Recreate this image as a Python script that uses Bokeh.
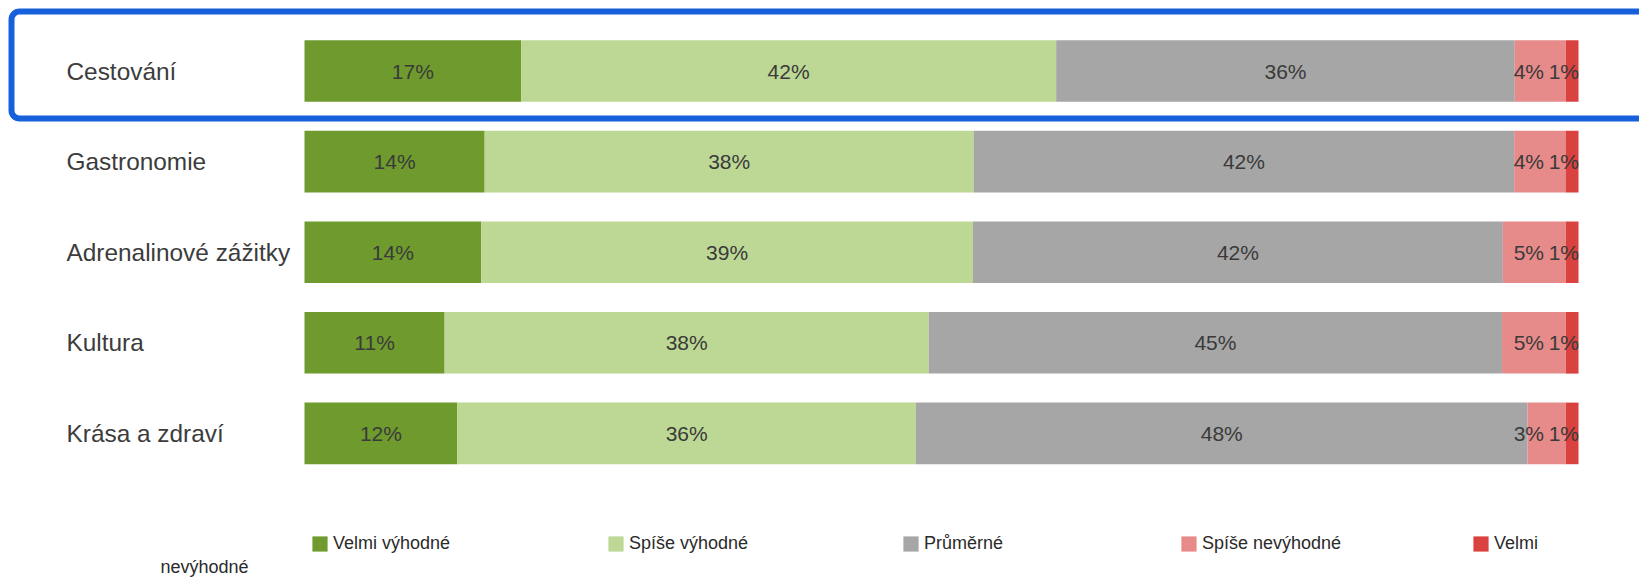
from bokeh.plotting import figure
from bokeh.models import ColumnDataSource, Range1d, Legend, LegendItem, Label, BoxAnnotation
from bokeh.core.properties import value
from bokeh.embed import file_html
from bokeh.resources import INLINE

# ---- data ----
categories = ["Cestování", "Gastronomie", "Adrenalinové zážitky", "Kultura", "Krása a zdraví"]
series_names = ["Velmi výhodné", "Spíše výhodné", "Průměrné", "Spíše nevýhodné", "Velmi nevýhodné"]
velmi_vyhodne = [17, 14, 14, 11, 12]
spise_vyhodne = [42, 38, 39, 38, 36]
prumerne = [36, 42, 42, 45, 48]
spise_nevyhodne = [4, 4, 5, 5, 3]
velmi_nevyhodne = [1, 1, 1, 1, 1]
series_values = [velmi_vyhodne, spise_vyhodne, prumerne, spise_nevyhodne, velmi_nevyhodne]
colors = ["#6e9a2e", "#bdd895", "#a6a6a6", "#e78a8a", "#d9423f"]

# ---- layout constants (pixels) ----
W, H = 1639, 578
PLOT_L, PLOT_R = 304, 1578
ROW0, PITCH = 70.5, 90.6
BAR_H = 0.68
FONT = "Liberation Sans"

ppp = (PLOT_R - PLOT_L) / 100.0
x_start = -PLOT_L / ppp
x_end = x_start + W / ppp
y_top = -ROW0 / PITCH
y_bottom = y_top + H / PITCH


def px_x(px):
    return x_start + px / ppp


def px_y(py):
    return y_top + py / PITCH


p = figure(width=W, height=H, x_range=Range1d(x_start, x_end),
           y_range=Range1d(y_bottom, y_top), output_backend="svg",
           toolbar_location=None, x_axis_type=None, y_axis_type=None,
           min_border=0, outline_line_color=None, background_fill_color="white")
p.xgrid.visible = False
p.ygrid.visible = False

rows = list(range(len(categories)))
totals = [sum(s[i] for s in series_values) for i in rows]

renderers = []
label_x, label_y, label_t = [], [], []
cum = [0.0] * len(rows)
n = len(series_names)
for k, (name, vals, col) in enumerate(zip(series_names, series_values, colors)):
    left = []
    right = []
    for i in rows:
        w = vals[i] * 100.0 / totals[i]
        left.append(cum[i])
        right.append(cum[i] + w)
        cx = cum[i] + w / 2
        if k == n - 1:
            cx = min(cx, 100 - 1.15)
        elif k == n - 2:
            cx = min(cx, 96.1)
        label_x.append(cx)
        label_y.append(i)
        label_t.append(f"{vals[i]}%")
        cum[i] += w
    src = ColumnDataSource(dict(y=rows, left=left, right=right))
    r = p.hbar(y="y", left="left", right="right", height=BAR_H, source=src,
               fill_color=col, line_color=None)
    renderers.append(r)

# data labels
p.text(x=label_x, y=label_y, text=label_t, text_align="center", text_baseline="middle",
       text_font=value(FONT), text_font_size="21px", text_color="#3a3a3a")

# category labels
p.text(x=[px_x(66)] * len(rows), y=rows, text=categories, text_align="left",
       text_baseline="middle", text_font=value(FONT), text_font_size="24.4px",
       text_color="#3c3c3c")

# legends (one per item to match spacing)
legend_x = [310, 606, 901, 1179, 1471]
legend_labels = ["Velmi výhodné", "Spíše výhodné", "Průměrné", "Spíše nevýhodné", "Velmi"]
for lx, lab, r in zip(legend_x, legend_labels, renderers):
    lg = Legend(items=[LegendItem(label=lab, renderers=[r])], location=(lx, H - 554),
                orientation="horizontal", glyph_width=19, glyph_height=19,
                label_standoff=4, padding=0, margin=0, spacing=0,
                label_height=19, border_line_alpha=0, background_fill_alpha=0,
                label_text_font=FONT, label_text_font_size="18px",
                label_text_color="#2a2a2a")
    p.add_layout(lg)

p.add_layout(Label(x=160, y=H - 566, x_units="screen", y_units="screen",
                   text="nevýhodné", text_font=FONT, text_font_size="18px",
                   text_color="#2a2a2a", text_baseline="middle"))

# highlight frame around the first row
p.add_layout(BoxAnnotation(left=px_x(11), right=px_x(1700), top=px_y(11), bottom=px_y(118),
                           fill_alpha=0, line_color="#1660dc", line_alpha=1.0, line_width=6,
                           border_radius=8))

open("out.html", "w").write(file_html(p, INLINE))
